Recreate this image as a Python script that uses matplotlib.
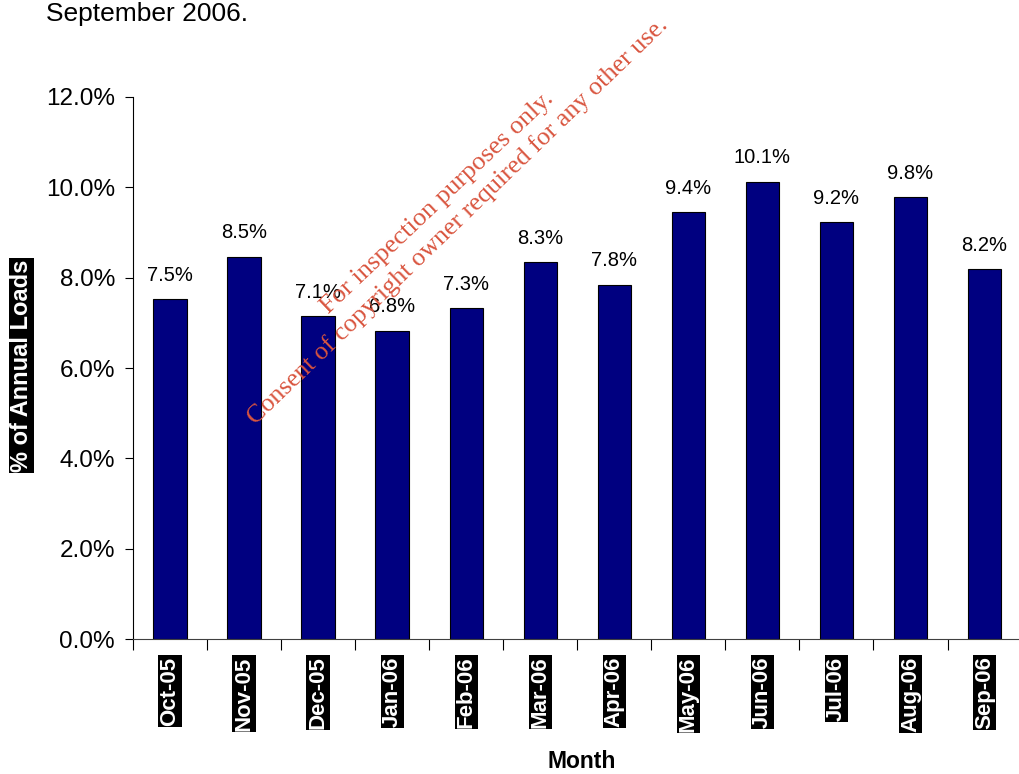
import matplotlib
matplotlib.use("Agg")
import matplotlib.pyplot as plt
import numpy as np
from matplotlib.ticker import FuncFormatter

plt.rcParams['font.family'] = ['Liberation Sans', 'DejaVu Sans']

months = ["Oct-05", "Nov-05", "Dec-05", "Jan-06", "Feb-06", "Mar-06",
          "Apr-06", "May-06", "Jun-06", "Jul-06", "Aug-06", "Sep-06"]
share = [7.52, 8.46, 7.14, 6.82, 7.32, 8.34, 7.84, 9.44, 10.12, 9.22, 9.78, 8.19]
yticks = [0, 2, 4, 6, 8, 10, 12]

fig = plt.figure(figsize=(10.19, 7.74), dpi=100)
ax = fig.add_axes([0.1305, 0.174, 0.872, 0.701])

x = np.arange(len(months))
ax.bar(x, share, width=0.45, color="#000080", edgecolor="black", linewidth=0.8, zorder=2)

for xi, v in zip(x, share):
    ax.text(xi, v + 0.32, "%.1f%%" % v, ha="center", va="bottom", fontsize=14.5)

ax.set_xlim(-0.5, len(months) - 0.5)
ax.set_ylim(0, 12)
ax.set_yticks(yticks)
ax.yaxis.set_major_formatter(FuncFormatter(lambda v, p: "%.1f%%" % v))
ax.tick_params(axis="y", labelsize=17.5, length=6, width=0.8, pad=7)

# boundaries between months carry the tick marks, names sit in between
ax.set_xticks(np.arange(-0.5, len(months), 1.0))
ax.set_xticklabels([])
ax.tick_params(axis="x", length=8, width=0.8)
for xi, m in zip(x, months):
    ax.text(xi, -0.38, m, rotation=90, ha="center", va="top", color="white",
            fontsize=16, fontweight="bold",
            bbox=dict(boxstyle="square,pad=0.05", fc="black", ec="none"),
            transform=ax.transData, clip_on=False)

for s in ["top", "right"]:
    ax.spines[s].set_visible(False)
ax.spines["left"].set_linewidth(0.8)
ax.spines["bottom"].set_linewidth(0.8)
ax.spines["bottom"].set_color("#404040")

fig.text(0.021, 0.528, "% of Annual Loads", rotation=90, ha="center", va="center",
         color="white", fontsize=17, fontweight="bold",
         bbox=dict(boxstyle="square,pad=0.05", fc="black", ec="none"))
fig.text(0.571, 0.016, "Month", ha="center", va="center", fontsize=16.5, fontweight="bold")
fig.text(0.045, 0.982, "September 2006.", ha="left", va="center", fontsize=19)

# watermark
wm = "#d9553f"
fig.text(437 / 1019, 1 - 203 / 774, "For inspection purposes only.", rotation=43.5,
         rotation_mode="anchor", ha="center", va="center", color=wm,
         fontsize=19, family="Liberation Serif")
fig.text(458 / 1019, 1 - 221 / 774, "Consent of copyright owner required for any other use.",
         rotation=44, rotation_mode="anchor", ha="center", va="center", color=wm,
         fontsize=18.8, family="Liberation Serif")

fig.savefig("out.png", dpi=100)
